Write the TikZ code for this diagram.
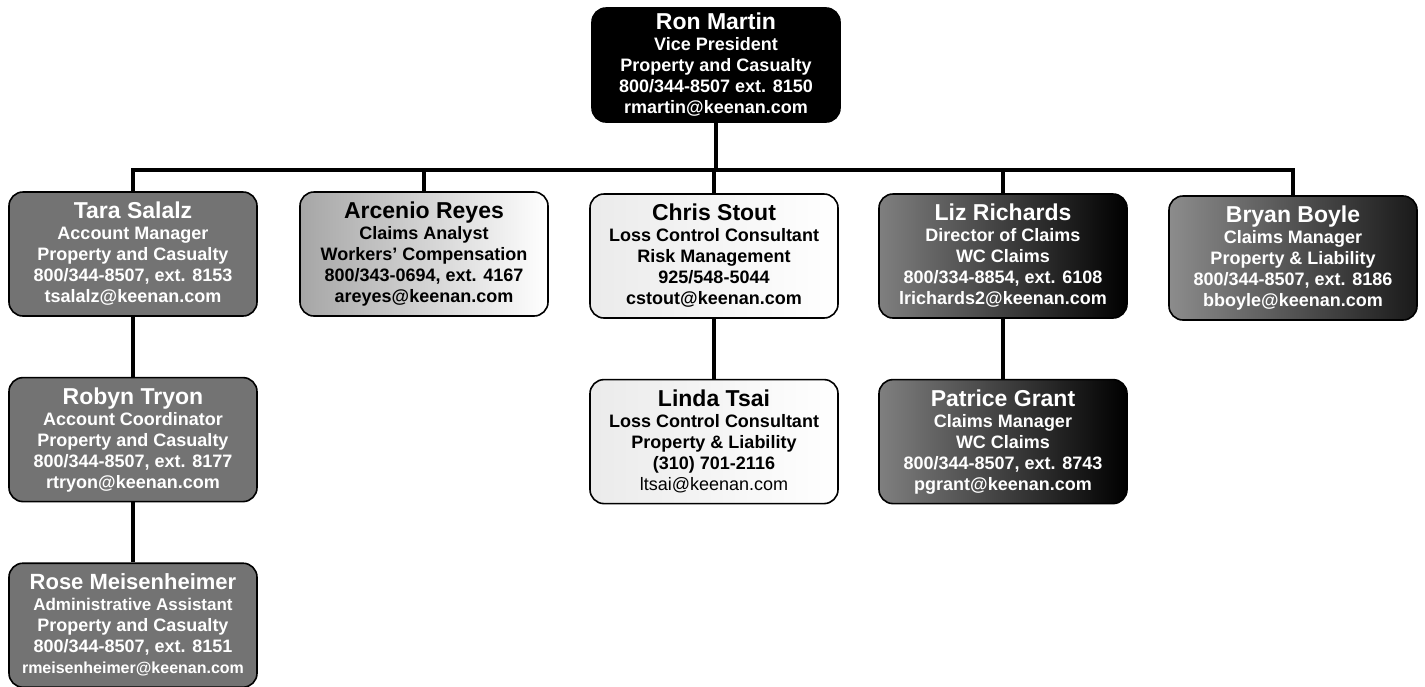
\documentclass[tikz,border=0pt]{standalone}
\usepackage{fontspec}
\setmainfont{Liberation Sans}
\usetikzlibrary{positioning}

\begin{document}
\begin{tikzpicture}[
    x=1pt, y=1pt,
    node distance=60pt,  % vertical gap between stacked boxes
    % Styles
    person/.style={draw=black, line width=1.6pt, rounded corners=14pt, minimum width=248pt, minimum height=124pt, inner sep=2pt, align=center, font=\bfseries\fontsize{18}{21}\selectfont},
    head/.style={person, fill=black, text=white, minimum height=114pt},
    mid/.style={person, fill=black!55, text=white},
    dark/.style={person, left color=black!50, right color=black, text=white},
    light/.style={person, left color=black!35, right color=white},
    plain/.style={person, left color=black!8, right color=white},
    link/.style={line width=4pt, black},
]
\useasboundingbox (0,0) rectangle (1425,-686);

% Top: vice president
\node[head] (martin) at (716,-65)
    {{\fontsize{23}{23}\selectfont Ron Martin}\\Vice President\\Property and Casualty\\800/344-8507 ext. 8150\\rmartin@keenan.com};

% Bus line
\coordinate (bus) at (716,-170);

% Level 1
\node[mid] (salalz) at (133,-254)
    {{\fontsize{23}{23}\selectfont Tara Salalz}\\Account Manager\\Property and Casualty\\800/344-8507, ext. 8153\\tsalalz@keenan.com};
\node[light] (reyes) at (424,-254)
    {{\fontsize{23}{23}\selectfont Arcenio Reyes}\\Claims Analyst\\Workers' Compensation\\800/343-0694, ext. 4167\\areyes@keenan.com};
\node[plain] (stout) at (714,-256)
    {{\fontsize{23}{23}\selectfont Chris Stout}\\Loss Control Consultant\\Risk Management\\925/548-5044\\cstout@keenan.com};
\node[dark] (richards) at (1003,-256)
    {{\fontsize{23}{23}\selectfont Liz Richards}\\Director of Claims\\WC Claims\\800/334-8854, ext. 6108\\lrichards2@keenan.com};
\node[dark, left color=black!45, right color=black!90] (boyle) at (1293,-258)
    {{\fontsize{23}{23}\selectfont Bryan Boyle}\\Claims Manager\\Property \& Liability\\800/344-8507, ext. 8186\\bboyle@keenan.com};

% Level 2
\node[mid, below=of salalz] (tryon)
    {{\fontsize{23}{23}\selectfont Robyn Tryon}\\Account Coordinator\\Property and Casualty\\800/344-8507, ext. 8177\\rtryon@keenan.com};
\node[plain, below=of stout] (tsai)
    {{\fontsize{23}{23}\selectfont Linda Tsai}\\Loss Control Consultant\\Property \& Liability\\(310) 701-2116\\{\mdseries ltsai@keenan.com}};
\node[dark, below=of richards] (grant)
    {{\fontsize{23}{23}\selectfont Patrice Grant}\\Claims Manager\\WC Claims\\800/344-8507, ext. 8743\\pgrant@keenan.com};

% Level 3
\node[mid, below=of tryon] (meisenheimer)
    {{\fontsize{22}{23}\selectfont Rose Meisenheimer}\\{\fontsize{17}{21}\selectfont Administrative Assistant}\\Property and Casualty\\800/344-8507, ext. 8151\\{\fontsize{16}{21}\selectfont rmeisenheimer@keenan.com}};

% Connectors
\draw[link] (martin) -- (bus);
\foreach \n in {salalz, reyes, stout, richards, boyle}
    \draw[link] (bus) -| (\n.north);
\draw[link] (salalz) -- (tryon);
\draw[link] (tryon) -- (meisenheimer);
\draw[link] (stout) -- (tsai);
\draw[link] (richards) -- (grant);

\end{tikzpicture}
\end{document}
